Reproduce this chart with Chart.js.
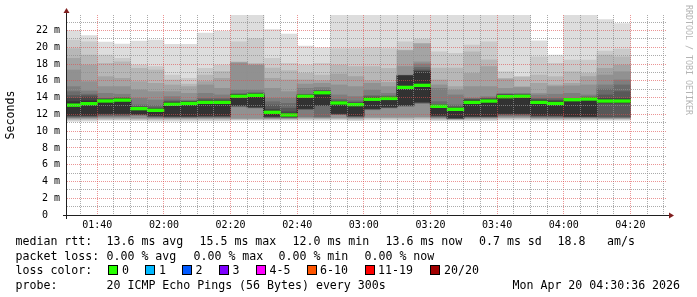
<!DOCTYPE html>
<html><head><meta charset="utf-8">
<script src="https://cdn.jsdelivr.net/npm/chart.js@4/dist/chart.umd.min.js"></script>
<style>
html,body{margin:0;padding:0;background:#fff;}
#wrap{position:relative;width:697px;height:297px;overflow:hidden;background:#fff;}
#c{position:absolute;left:0;top:0;}
.t{position:absolute;font-family:'DejaVu Sans Mono',monospace;font-size:11.6px;line-height:14px;color:#000;white-space:pre;}
.box{position:absolute;width:8px;height:8px;border:1px solid #000;}
#wm{position:absolute;left:684px;top:5px;font-family:'DejaVu Sans Mono',monospace;font-size:8.3px;line-height:9px;color:#b4b4b4;writing-mode:vertical-rl;white-space:pre;}
</style></head><body>
<div id="wrap"><canvas id="c" width="697" height="297" style="width:697px;height:297px"></canvas></div>
<script>
// ---------- data ----------
const stepEnds = ['01:35','01:40','01:45','01:50','01:55','02:00','02:05','02:10','02:15','02:20','02:25','02:30','02:35','02:40','02:45','02:50','02:55','03:00','03:05','03:10','03:15','03:20','03:25','03:30','03:35','03:40','03:45','03:50','03:55','04:00','04:05','04:10','04:15','04:20'];
const rangeStart = '01:30:54';
const rangeEnd = '04:31:00';
const xTickLabels = ['01:40','02:00','02:20','02:40','03:00','03:20','03:40','04:00','04:20'];
const yTickLabels = ['0  ','2 m','4 m','6 m','8 m','10 m','12 m','14 m','16 m','18 m','20 m','22 m'];
const yMax = 23.85;

const median = [13.1,13.28,13.6,13.7,12.68,12.48,13.2,13.3,13.43,13.43,14.15,14.27,12.25,11.93,14.15,14.58,13.36,13.16,13.8,13.9,15.22,15.46,12.96,12.6,13.43,13.59,14.11,14.15,13.43,13.3,13.75,13.83,13.59,13.59];

const ping01 = [11.18,11.2,11.28,11.28,11.25,11.2,11.2,11.2,11.22,11.22,11.3,11.3,11.3,11.3,11.3,11.3,11.32,11.25,11.33,11.33,11.3,11.33,11.25,11.28,11.25,11.25,11.33,11.33,11.28,11.28,11.28,11.28,11.3,11.3];
const ping02 = [11.3,11.32,11.38,11.38,11.36,11.32,11.32,11.32,11.33,11.33,11.38,11.37,11.38,11.38,11.4,11.4,11.42,11.35,11.45,11.45,11.42,11.45,11.35,11.35,11.35,11.35,11.45,11.45,11.38,11.38,11.38,11.38,11.4,11.4];
const ping03 = [11.4,11.42,11.47,11.47,11.45,11.42,11.42,11.42,11.43,11.43,11.45,11.44,11.45,11.45,11.5,11.5,11.5,11.45,11.55,11.55,11.52,11.55,11.45,11.4,11.45,11.45,11.55,11.55,11.46,11.46,11.46,11.46,11.47,11.47];
const ping04 = [11.48,11.5,11.55,11.55,11.52,11.5,11.5,11.5,11.5,11.5,11.5,11.5,11.5,11.5,11.57,11.56,11.58,11.52,11.62,11.62,11.62,11.64,11.52,11.44,11.52,11.52,11.62,11.62,11.53,11.53,11.53,11.53,11.52,11.52];
const ping05 = [11.56,11.58,11.65,11.65,11.6,11.58,11.56,11.56,11.57,11.57,11.55,11.55,11.55,11.55,11.65,11.62,11.65,11.6,11.7,11.7,11.7,11.72,11.6,11.47,11.58,11.58,11.7,11.7,11.6,11.6,11.59,11.59,11.57,11.57];
const ping06 = [11.63,11.65,11.75,11.75,11.9,11.65,11.62,11.62,11.64,11.64,12.9,12.76,11.6,11.6,11.73,11.68,11.97,11.66,12.55,12.76,12.95,13.3,11.66,11.5,11.64,11.64,11.8,11.8,11.66,11.66,11.64,11.64,11.62,11.62];
const ping07 = [11.7,11.72,11.85,11.85,11.93,11.72,11.68,11.68,11.7,11.7,12.95,12.8,11.65,11.64,12.6,11.75,12.0,11.72,12.6,12.8,13.0,13.35,11.72,11.52,11.69,11.69,11.9,11.9,11.72,11.72,11.69,11.69,11.68,11.68];
const ping08 = [11.77,11.79,11.95,11.95,11.97,11.78,11.73,11.73,11.76,11.76,13.0,12.84,11.7,11.68,12.64,13.04,12.03,11.77,12.65,12.84,13.05,13.4,11.78,11.55,11.74,11.74,12.0,12.0,11.78,11.78,11.73,11.73,11.73,11.73];
const ping09 = [11.85,11.86,12.05,12.05,12.0,11.84,11.78,11.78,11.82,11.82,13.05,12.88,11.75,11.72,12.68,13.08,12.08,11.82,12.68,12.88,13.08,13.45,11.85,11.58,11.78,11.78,12.08,12.08,11.85,11.85,11.77,11.77,13.35,13.35];
const ping10 = [11.93,11.93,12.13,12.13,12.05,11.9,11.83,11.83,11.88,11.88,13.1,12.92,11.8,11.76,12.72,13.12,12.13,11.87,12.72,12.92,13.12,13.51,11.93,11.62,11.82,11.82,12.13,12.13,11.93,11.93,11.8,11.8,13.4,13.4];
const ping11 = [13.51,13.6,13.75,13.85,12.82,12.6,13.35,13.45,13.55,13.55,14.3,14.4,12.4,12.1,14.25,14.7,13.5,13.3,13.95,14.0,16.58,17.08,13.05,12.7,13.6,13.75,14.25,14.25,13.6,13.5,13.85,13.9,13.75,13.75];
const ping12 = [13.91,14.05,13.8,13.9,12.85,12.68,13.45,13.5,13.65,13.65,14.35,14.45,12.6,12.3,14.3,14.75,13.55,13.35,14.0,14.05,16.6,17.15,13.1,12.8,13.7,13.8,14.3,14.3,13.7,13.6,13.88,13.95,13.9,13.9];
const ping13 = [14.23,14.23,13.85,13.95,12.9,12.78,13.55,13.55,13.75,13.75,14.4,14.5,13.12,12.72,14.35,14.8,13.6,13.4,14.1,14.1,16.62,17.3,13.12,12.9,13.8,13.9,14.35,14.35,13.8,13.71,13.9,14.0,14.31,14.7];
const ping14 = [14.7,14.4,13.91,14.0,13.12,13.04,13.71,13.6,13.9,13.9,14.45,14.6,13.5,13.3,14.39,14.9,13.8,13.6,14.23,14.2,16.65,17.6,13.51,13.12,13.85,13.95,14.4,14.4,13.91,13.9,13.91,14.1,15.0,15.5];
const ping15 = [15.3,14.78,14.5,14.39,13.91,13.71,14.11,13.71,14.5,14.31,14.9,14.9,13.91,13.91,15.1,15.2,14.31,14.11,14.9,14.5,16.68,18.0,15.1,14.31,13.91,14.11,14.5,14.5,14.3,14.39,14.5,14.31,15.5,16.09];
const ping16 = [17.28,15.89,15.3,15.3,14.9,14.7,14.7,14.5,15.5,15.1,18.1,17.85,15.1,14.7,15.6,15.69,15.5,15.3,15.69,15.3,17.68,18.27,15.5,14.9,15.3,15.3,15.1,15.2,14.5,15.3,15.4,15.5,16.68,17.08];
const ping17 = [18.67,17.87,16.49,16.29,15.89,15.69,15.5,15.3,15.9,16.29,18.2,17.95,16.29,16.09,16.09,16.0,16.8,16.5,16.0,15.8,19.6,20.4,16.09,15.3,16.88,17.68,16.2,15.3,15.69,15.5,15.69,16.5,17.48,17.87];
const ping18 = [19.85,19.06,18.07,18.27,17.48,17.28,16.09,15.6,16.68,17.1,18.27,18.07,17.5,17.2,16.88,16.68,17.87,17.68,17.68,17.48,19.65,20.45,17.5,17.5,19.46,18.5,16.29,16.45,16.68,16.49,17.08,16.88,19.06,18.86];
const ping19 = [20.85,20.65,19.06,18.67,17.87,17.68,16.68,16.29,17.48,17.87,20.65,21.04,18.67,18.07,17.87,18.07,19.85,19.85,19.93,19.85,20.65,20.97,19.46,19.26,20.25,20.65,17.08,16.49,18.86,18.07,18.47,18.47,19.54,19.78];
const ping20 = [21.99,21.4,20.6,20.37,20.73,20.85,20.33,20.33,21.68,21.92,25.0,25.0,22.11,21.56,20.13,19.93,25.0,25.0,25.0,25.0,25.0,25.0,25.0,25.0,25.0,25.0,25.0,25.0,20.77,19.06,25.0,25.0,23.3,22.83];

const rttStats = ['13.6 ms avg','15.5 ms max','12.0 ms min','13.6 ms now','0.7 ms sd','18.8','am/s'];
const lossStats = ['0.00 % avg','0.00 % max','0.00 % min','0.00 % now'];
const lossLabels = ['0','1','2','3','4-5','6-10','11-19','20/20'];
const lossColors = ['#26ff00','#00b8ff','#0059ff','#7e00ff','#ff00ff','#ff5500','#ff0000','#a10000'];
const probeText = '20 ICMP Echo Pings (56 Bytes) every 300s';
const stampText = 'Mon Apr 20 04:30:36 2026';
const watermark = 'RRDTOOL / TOBI OETIKER';

// ---------- styles / layout ----------
const STEP = 5;
const BAND = 0.15;
const smokeColors = ['#dddddd','#cacaca','#b7b7b7','#a4a4a4','#919191','#7e7e7e','#6b6b6b','#585858','#454545','#323232'];
const GRID = 'rgba(143,143,143,0.75)';
const MGRID = 'rgba(222,79,79,0.6)';
const AXIS = 'rgb(31,31,31)';
const ARROW = 'rgb(128,31,31)';
const MONO = 'DejaVu Sans Mono';
const layoutText = {
  line: [234, 248.5, 263, 277.5],
  labelX: 15.5,
  rttX: [106.5, 199.5, 292.5, 385.5, 479, 557.5, 607],
  lossX: [106.5, 193.5, 278.5, 364.5],
  boxX: [108, 145, 182, 219, 256, 306.5, 364.5, 430],
  boxLabelX: [122, 159, 195.5, 232.5, 269.5, 320, 378, 444],
  boxTop: 265,
  probeX: 106.5, stampX: 512.5
};

// ---------- helpers ----------
const toMin = s => { const p = s.split(':').map(Number); return p[0]*60 + p[1] + (p[2]||0)/60; };
const pings = [ping01,ping02,ping03,ping04,ping05,ping06,ping07,ping08,ping09,ping10,ping11,ping12,ping13,ping14,ping15,ping16,ping17,ping18,ping19,ping20];
const ends = stepEnds.map(toMin);
const centers = ends.map(t => t - STEP/2);
const xTickMins = xTickLabels.map(toMin);
const xMin = toMin(rangeStart), xMax = toMin(rangeEnd);

const datasets = [];
for (let i = 0; i < 10; i++) {
  const lo = pings[i], hi = pings[19 - i];
  datasets.push({
    type: 'bar', label: 'smoke' + (i+1),
    data: centers.map((x, k) => ({x, y: [lo[k], hi[k]]})),
    backgroundColor: smokeColors[i], borderWidth: 0, grouped: false,
    barPercentage: 1, categoryPercentage: 1, inflateAmount: 0.4,
    order: 20 - i, clip: 0
  });
}
datasets.push({
  type: 'line', label: 'median',
  data: ends.flatMap((t, k) => [{x: t - STEP, y: median[k]}, {x: t, y: median[k]}]),
  borderColor: '#202020', borderWidth: 1, pointRadius: 0, fill: false, tension: 0,
  order: 2, clip: 0
});
datasets.push({
  type: 'bar', label: 'loss0',
  data: centers.map((x, k) => ({x, y: [median[k] - BAND, median[k] + BAND]})),
  backgroundColor: lossColors[0], borderWidth: 0, grouped: false,
  barPercentage: 1, categoryPercentage: 1, inflateAmount: 0.4,
  order: 1, clip: 0
});

const isMajorX = v => xTickMins.some(m => Math.abs(m - v) < 1e-6);
const rrdAxes = {
  id: 'rrdAxes',
  afterDraw(chart) {
    const {ctx, chartArea: a} = chart;
    ctx.save();
    ctx.strokeStyle = AXIS; ctx.lineWidth = 1;
    const ay = Math.round(a.bottom) + 0.5, ax = Math.round(a.left) - 0.5;
    ctx.beginPath();
    ctx.moveTo(a.left - 4, ay); ctx.lineTo(a.right + 4, ay);
    ctx.moveTo(ax, a.bottom + 4); ctx.lineTo(ax, a.top - 4);
    ctx.stroke();
    ctx.fillStyle = ARROW;
    ctx.beginPath();
    ctx.moveTo(a.right + 2, ay - 3); ctx.lineTo(a.right + 2, ay + 3); ctx.lineTo(a.right + 7, ay); ctx.closePath(); ctx.fill();
    ctx.beginPath();
    ctx.moveTo(ax - 3, a.top - 2); ctx.lineTo(ax + 3, a.top - 2); ctx.lineTo(ax, a.top - 7); ctx.closePath(); ctx.fill();
    ctx.restore();
  }
};

new Chart(document.getElementById('c'), {
  type: 'bar',
  data: { datasets },
  plugins: [rrdAxes],
  options: {
    responsive: false, animation: false, events: [],
    layout: { padding: { left: 0, right: 30, top: 15, bottom: 0 } },
    plugins: { legend: { display: false }, tooltip: { enabled: false } },
    scales: {
      x: {
        type: 'linear', min: xMin, max: xMax, offset: false,
        grid: { offset: false, z: 1, drawTicks: false, lineWidth: 1,
                color: c => (c.tick && isMajorX(c.tick.value)) ? MGRID : GRID },
        border: { display: false, dash: [1, 1] },
        ticks: { stepSize: STEP, maxTicksLimit: 1000, includeBounds: false, autoSkip: false,
                 maxRotation: 0, minRotation: 0, padding: 4, color: '#000',
                 font: { family: MONO, size: 10 },
                 callback: v => { const i = xTickMins.findIndex(m => Math.abs(m - v) < 1e-6); return i >= 0 ? xTickLabels[i] : ''; } },
        afterFit: s => { s.height = 82; }
      },
      y: {
        type: 'linear', min: 0, max: yMax,
        grid: { z: 1, drawTicks: false, lineWidth: 1,
                color: c => (c.tick && c.tick.value % 2 === 0) ? MGRID : GRID },
        border: { display: false, dash: [1, 1] },
        ticks: { stepSize: 1, maxTicksLimit: 1000, includeBounds: false, autoSkip: false,
                 padding: 7, color: '#000', font: { family: MONO, size: 10 },
                 callback: v => (v % 2 === 0 && yTickLabels[v/2] !== undefined) ? yTickLabels[v/2] : '' },
        title: { display: true, text: 'Seconds', color: '#000', font: { family: MONO, size: 11.6 }, padding: { top: 4, bottom: 0 } },
        afterFit: s => { s.width = 67; }
      }
    }
  }
});

// ---------- legend text (real DOM text) ----------
const wrap = document.getElementById('wrap');
function txt(s, x, y) { const d = document.createElement('div'); d.className = 't'; d.textContent = s; d.style.left = x + 'px'; d.style.top = y + 'px'; wrap.appendChild(d); }
const L = layoutText;
txt('median rtt:', L.labelX, L.line[0]);
rttStats.forEach((s, i) => txt(s, L.rttX[i], L.line[0]));
txt('packet loss:', L.labelX, L.line[1]);
lossStats.forEach((s, i) => txt(s, L.lossX[i], L.line[1]));
txt('loss color:', L.labelX, L.line[2]);
lossLabels.forEach((s, i) => {
  const b = document.createElement('div'); b.className = 'box';
  b.style.left = L.boxX[i] + 'px'; b.style.top = L.boxTop + 'px'; b.style.background = lossColors[i];
  wrap.appendChild(b);
  txt(s, L.boxLabelX[i], L.line[2]);
});
txt('probe:', L.labelX, L.line[3]);
txt(probeText, L.probeX, L.line[3]);
txt(stampText, L.stampX, L.line[3]);
const wm = document.createElement('div'); wm.id = 'wm'; wm.textContent = watermark; wrap.appendChild(wm);
</script>
</body></html>
